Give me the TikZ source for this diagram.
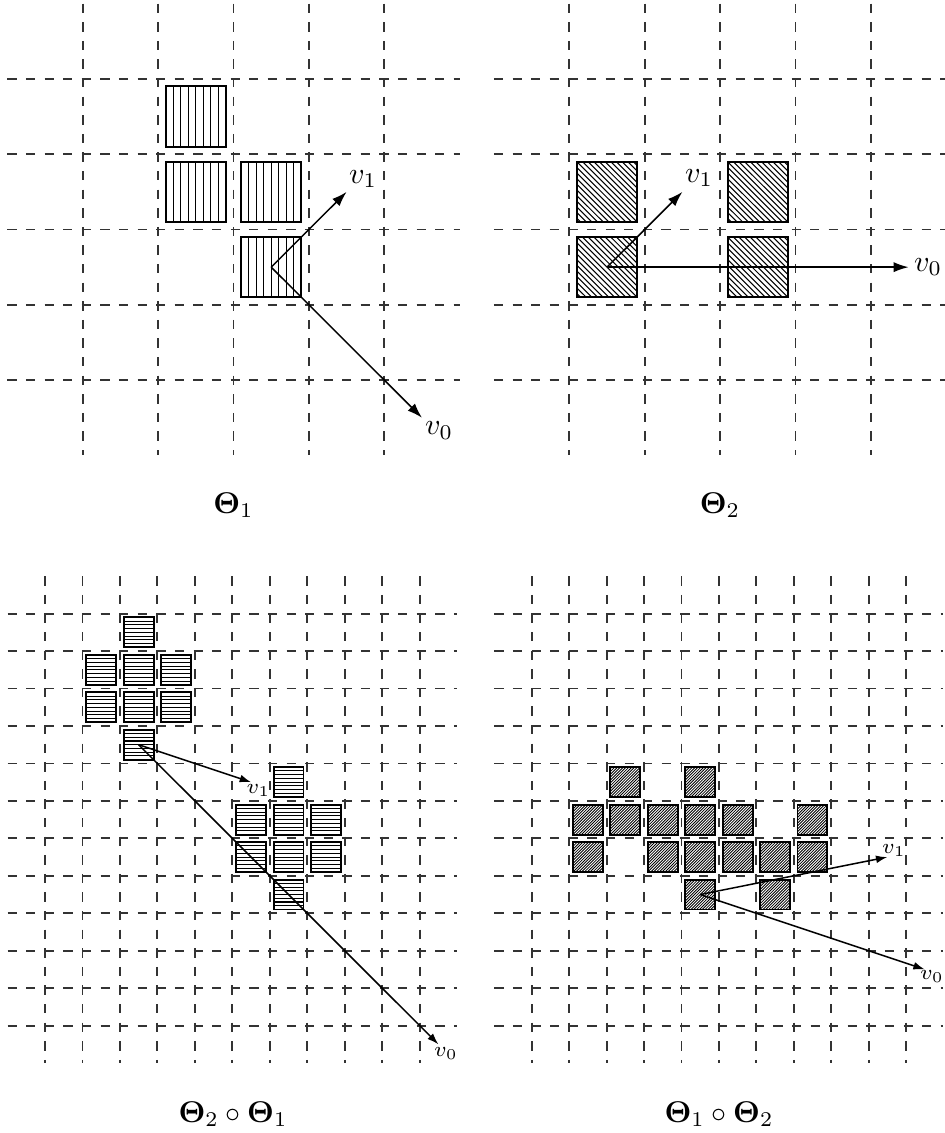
\documentclass[tikz,border=0pt]{standalone}
\usetikzlibrary{arrows.meta}
\tikzset{
 gridline/.style={dash pattern=on 3.1pt off 3.1pt, line width=0.6pt, draw=black!80},
 sqbox/.style={line width=0.65pt, draw=black},
 hatchline/.style={line width=0.35pt, draw=black},
 finehatch/.style={line width=0.28pt, draw=black},
 vecbig/.style={line width=0.5pt, -{Latex[length=5pt,width=3.4pt]}},
 vecsmall/.style={line width=0.5pt, -{Latex[length=3.8pt,width=2.6pt]}},
 labbig/.style={inner sep=0pt},
 labsmall/.style={inner sep=0pt, font=\scriptsize},
}
\begin{document}
\begin{tikzpicture}[x=0.33333pt, y=-0.33333pt]
\useasboundingbox (0,0) rectangle (944,1133);

% ---------- top-left: Theta_1 ----------
\begin{scope}[shift={(7.3,3.6)}, x=25.133pt, y=-25.1pt]
 \foreach \k in {1,...,5} {\draw[gridline] (\k,0) -- (\k,6); \draw[gridline] (0,\k) -- (6,\k);}
 \foreach \c/\r in {2/1,2/2,3/2,3/3} {
   \foreach \i in {2,...,8} \draw[hatchline] ({\c+\i/10},\r+0.1) -- ({\c+\i/10},\r+0.9);
   \draw[sqbox] (\c+0.1,\r+0.1) rectangle (\c+0.9,\r+0.9);
 }
 \coordinate (tlO) at (3.5,3.5);
 \coordinate (tlA) at (4.5,2.5);
 \coordinate (tlB) at (5.5,5.5);
\end{scope}

% ---------- top-right: Theta_2 ----------
\begin{scope}[shift={(493.9,3.6)}, x=25.133pt, y=-25.1pt]
 \foreach \k in {1,...,5} {\draw[gridline] (\k,0) -- (\k,6); \draw[gridline] (0,\k) -- (6,\k);}
 \foreach \c/\r in {1/2,3/2,1/3,3/3} {
   \begin{scope}
     \clip (\c+0.1,\r+0.1) rectangle (\c+0.9,\r+0.9);
     \foreach \i in {-11,...,11} \draw[hatchline] ({\c+\i*0.075},\r) -- ({\c+1+\i*0.075},\r+1);
   \end{scope}
   \draw[sqbox] (\c+0.1,\r+0.1) rectangle (\c+0.9,\r+0.9);
 }
 \coordinate (trO) at (1.5,3.5);
 \coordinate (trA) at (2.5,2.5);
 \coordinate (trB) at (5.5,3.5);
\end{scope}

% ---------- bottom-left: Theta_2 o Theta_1 ----------
\begin{scope}[shift={(7.5,576.2)}, x=12.49pt, y=-12.483pt]
 \foreach \k in {1,...,11} \draw[gridline] (\k,0) -- (\k,13);
 \foreach \k in {1,...,12} \draw[gridline] (0,\k) -- (12,\k);
 \foreach \c/\r in {3/1,2/2,3/2,4/2,2/3,3/3,4/3,3/4,7/5,6/6,7/6,8/6,6/7,7/7,8/7,7/8} {
   \foreach \i in {2,...,8} \draw[hatchline] (\c+0.1,{\r+\i/10}) -- (\c+0.9,{\r+\i/10});
   \draw[sqbox] (\c+0.1,\r+0.1) rectangle (\c+0.9,\r+0.9);
 }
 \coordinate (blO) at (3.5,4.5);
 \coordinate (blA) at (6.5,5.5);
 \coordinate (blB) at (11.5,12.5);
\end{scope}

% ---------- bottom-right: Theta_1 o Theta_2 ----------
\begin{scope}[shift={(494.3,576.2)}, x=12.477pt, y=-12.483pt]
 \foreach \k in {1,...,11} \draw[gridline] (\k,0) -- (\k,13);
 \foreach \k in {1,...,12} \draw[gridline] (0,\k) -- (12,\k);
 \foreach \c/\r in {3/5,5/5,2/6,3/6,4/6,5/6,6/6,8/6,2/7,4/7,5/7,6/7,7/7,8/7,5/8,7/8} {
   \begin{scope}
     \clip (\c+0.1,\r+0.1) rectangle (\c+0.9,\r+0.9);
     \foreach \i in {-11,...,11} \draw[finehatch] ({\c+\i*0.076},\r+1) -- ({\c+1+\i*0.076},\r);
   \end{scope}
   \draw[sqbox] (\c+0.1,\r+0.1) rectangle (\c+0.9,\r+0.9);
 }
 \coordinate (brO) at (5.5,8.5);
 \coordinate (brA) at (10.5,7.5);
 \coordinate (brB) at (11.5,10.5);
\end{scope}

% ---------- vectors ----------
\draw[vecbig] (tlO) -- (tlA);
\draw[vecbig] (tlO) -- (tlB);
\node[labbig] (tlLa) at ([shift={(16.4,-12.9)}]tlA) {$v_1$};
\node[labbig] (tlLb) at ([shift={(17,13)}]tlB) {$v_0$};

\draw[vecbig] (trO) -- (trA);
\draw[vecbig] (trO) -- (trB);
\node[labbig] (trLa) at ([shift={(16.6,-14)}]trA) {$v_1$};
\node[labbig] (trLb) at ([shift={(19.4,0)}]trB) {$v_0$};

\draw[vecsmall] (blO) -- (blA);
\draw[vecsmall] (blO) -- (blB);
\node[labsmall] (blLa) at ([shift={(7.5,8)}]blA) {$v_1$};
\node[labsmall] (blLb) at ([shift={(7.6,9.2)}]blB) {$v_0$};

\draw[vecsmall] (brO) -- (brA);
\draw[vecsmall] (brO) -- (brB);
\node[labsmall] (brLa) at ([shift={(6.6,-7)}]brA) {$v_1$};
\node[labsmall] (brLb) at ([shift={(7.1,7.1)}]brB) {$v_0$};

% ---------- captions ----------
\node[anchor=base] (capA) at (233.5,513) {$\mathbf{\Theta}_1$};
\node[anchor=base] (capB) at (720,513) {$\mathbf{\Theta}_2$};
\node[anchor=base] (capC) at (233,1122.3) {$\mathbf{\Theta}_2\circ\mathbf{\Theta}_1$};
\node[anchor=base] (capD) at (719,1122.3) {$\mathbf{\Theta}_1\circ\mathbf{\Theta}_2$};
\end{tikzpicture}
\end{document}
